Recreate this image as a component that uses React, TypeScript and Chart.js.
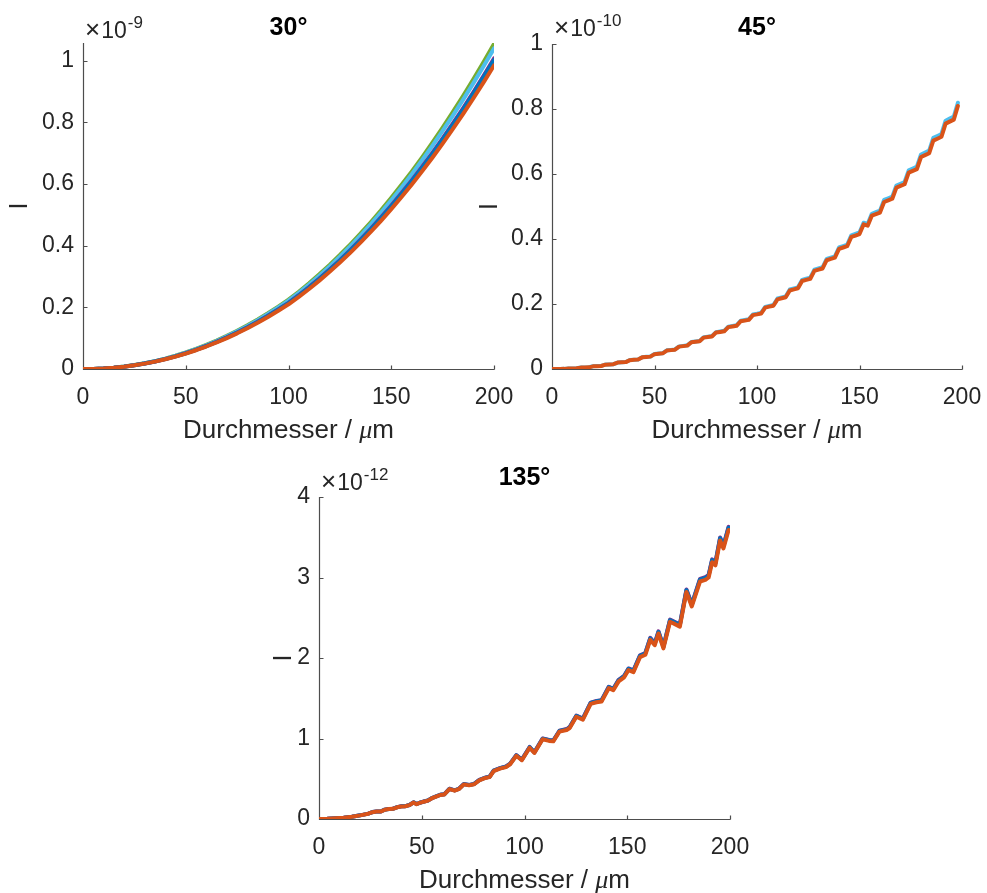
import { useEffect, useRef } from "react";
import { Chart, registerables } from "chart.js";

Chart.register(...registerables);

// MATLAB default line colours
const BLUE = "#0072BD";
const ORANGE = "#D95319";
const PURPLE = "#7E2F8E";
const GREEN = "#77AC30";
const CYAN = "#4DBEEE";

const AXIS_COLOR = "#262626";
const AXIS_LINE_COLOR = "#4d4d4d";
const FONT = "'Liberation Sans', Arial, Helvetica, sans-serif";

const X_LABEL = "Durchmesser / ";
const X_UNIT_MU = "μ";
const X_UNIT_M = "m";
const Y_LABEL = "I";

const X_TICKS = [0, 50, 100, 150, 200];
const Y_TICKS_30 = [0, 0.2, 0.4, 0.6, 0.8, 1];
const Y_TICKS_45 = [0, 0.2, 0.4, 0.6, 0.8, 1];
const Y_TICKS_135 = [0, 1, 2, 3, 4];

// ---- 30° : diameter (µm), intensity in units of 1e-9 ----
const D_30 = [
  0, 5, 10, 15, 20, 25, 30, 35, 40, 45,
  50, 55, 60, 65, 70, 75, 80, 85, 90, 95,
  100, 105, 110, 115, 120, 125, 130, 135, 140, 145,
  150, 155, 160, 165, 170, 175, 180, 185, 190, 195,
  200,
];
const I30_ORANGE = [
  0, 0.0004, 0.0018, 0.0041, 0.0075, 0.0119, 0.0174, 0.0239, 0.0315, 0.0402,
  0.05, 0.0609, 0.073, 0.0861, 0.1004, 0.1158, 0.1323, 0.15, 0.1689, 0.1889,
  0.21, 0.2341, 0.2597, 0.2868, 0.3154, 0.3454, 0.377, 0.4101, 0.4447, 0.4809,
  0.5187, 0.558, 0.599, 0.6415, 0.6857, 0.7315, 0.779, 0.828, 0.8787, 0.9311,
  0.9852,
];
const I30_BLUE = [
  0, 0.0004, 0.0018, 0.0042, 0.0076, 0.0121, 0.0177, 0.0243, 0.0321, 0.0409,
  0.0509, 0.062, 0.0743, 0.0876, 0.1022, 0.1179, 0.1347, 0.1527, 0.1719, 0.1923,
  0.2138, 0.2383, 0.2644, 0.292, 0.3211, 0.3516, 0.3838, 0.4175, 0.4527, 0.4896,
  0.528, 0.568, 0.6098, 0.653, 0.698, 0.7447, 0.793, 0.8429, 0.8945, 0.9479,
  1.0029,
];
const I30_PURPLE = [
  0, 0.0004, 0.0018, 0.0042, 0.0077, 0.0122, 0.0178, 0.0244, 0.0322, 0.0411,
  0.0512, 0.0623, 0.0747, 0.0881, 0.1027, 0.1185, 0.1353, 0.1535, 0.1728, 0.1932,
  0.2148, 0.2395, 0.2657, 0.2934, 0.3227, 0.3533, 0.3857, 0.4195, 0.4549, 0.492,
  0.5306, 0.5708, 0.6128, 0.6563, 0.7015, 0.7483, 0.7969, 0.847, 0.8989, 0.9525,
  1.0079,
];
const I30_CYAN = [
  0, 0.0004, 0.0019, 0.0043, 0.0079, 0.0126, 0.0184, 0.0252, 0.0333, 0.0425,
  0.0528, 0.0643, 0.0771, 0.0909, 0.106, 0.1223, 0.1397, 0.1584, 0.1784, 0.1995,
  0.2218, 0.2472, 0.2742, 0.3029, 0.3331, 0.3647, 0.3981, 0.4331, 0.4696, 0.5078,
  0.5477, 0.5892, 0.6325, 0.6774, 0.7241, 0.7725, 0.8226, 0.8744, 0.9279, 0.9832,
  1.0404,
];
const I30_GREEN = [
  0, 0.0004, 0.0019, 0.0044, 0.008, 0.0127, 0.0186, 0.0256, 0.0337, 0.0431,
  0.0536, 0.0652, 0.0782, 0.0922, 0.1075, 0.124, 0.1417, 0.1607, 0.1809, 0.2023,
  0.2249, 0.2507, 0.2781, 0.3072, 0.3378, 0.3699, 0.4038, 0.4392, 0.4763, 0.515,
  0.5555, 0.5976, 0.6415, 0.687, 0.7344, 0.7834, 0.8343, 0.8868, 0.9411, 0.9972,
  1.0551,
];

// ---- 45° : diameter (µm), intensity in units of 1e-10 ----
const D_45 = [
  0, 2, 4, 6, 8, 10, 12, 14, 16, 18,
  20, 22, 24, 26, 28, 30, 32, 34, 36, 38,
  40, 42, 44, 46, 48, 50, 52, 54, 56, 58,
  60, 62, 64, 66, 68, 70, 72, 74, 76, 78,
  80, 82, 84, 86, 88, 90, 92, 94, 96, 98,
  100, 102, 104, 106, 108, 110, 112, 114, 116, 118,
  120, 122, 124, 126, 128, 130, 132, 134, 136, 138,
  140, 142, 144, 146, 148, 150, 152, 154, 156, 158,
  160, 162, 164, 166, 168, 170, 172, 174, 176, 178,
  180, 182, 184, 186, 188, 190, 192, 194, 196, 198,
];
const I45_ORANGE = [
  0, 0.0001, 0.0003, 0.0004, 0.0016, 0.0019, 0.0021, 0.0043, 0.0047, 0.0051,
  0.0082, 0.0088, 0.0093, 0.0133, 0.014, 0.0147, 0.0197, 0.0205, 0.0213, 0.0272,
  0.0281, 0.0291, 0.0358, 0.037, 0.0381, 0.0457, 0.0469, 0.0482, 0.0567, 0.0581,
  0.0594, 0.0688, 0.0704, 0.0719, 0.0822, 0.0838, 0.0854, 0.0966, 0.0984, 0.1001,
  0.1122, 0.1141, 0.116, 0.1289, 0.1309, 0.1329, 0.1467, 0.1489, 0.1511, 0.1657,
  0.168, 0.1707, 0.189, 0.1919, 0.1947, 0.2144, 0.2175, 0.2206, 0.2417, 0.245,
  0.2483, 0.2708, 0.2743, 0.2778, 0.3018, 0.3056, 0.3093, 0.3347, 0.3387, 0.3426,
  0.3695, 0.3738, 0.3778, 0.4062, 0.4106, 0.4151, 0.4449, 0.441, 0.4719, 0.4767,
  0.4815, 0.5139, 0.519, 0.524, 0.558, 0.5633, 0.5685, 0.6041, 0.6096, 0.6151,
  0.6523, 0.658, 0.6639, 0.7026, 0.7086, 0.7146, 0.7549, 0.7612, 0.7673, 0.8094,
];
const I45_CYAN = [
  0, 0.0001, 0.0003, 0.0004, 0.0016, 0.0019, 0.0021, 0.0044, 0.0048, 0.0052,
  0.0083, 0.0089, 0.0094, 0.0135, 0.0142, 0.0149, 0.0199, 0.0207, 0.0216, 0.0275,
  0.0284, 0.0294, 0.0362, 0.0374, 0.0386, 0.0462, 0.0475, 0.0488, 0.0574, 0.0588,
  0.0601, 0.0696, 0.0712, 0.0728, 0.0832, 0.0848, 0.0864, 0.0978, 0.0996, 0.1013,
  0.1135, 0.1155, 0.1174, 0.1304, 0.1325, 0.1345, 0.1485, 0.1507, 0.1529, 0.1677,
  0.17, 0.1727, 0.1913, 0.1942, 0.197, 0.217, 0.2201, 0.2232, 0.2446, 0.2479,
  0.2513, 0.274, 0.2776, 0.2811, 0.3054, 0.3093, 0.313, 0.3387, 0.3428, 0.3467,
  0.3739, 0.3783, 0.3823, 0.4111, 0.4155, 0.4201, 0.4502, 0.4463, 0.4776, 0.4824,
  0.4873, 0.5201, 0.5252, 0.5303, 0.5647, 0.5701, 0.5753, 0.6113, 0.6169, 0.6225,
  0.6601, 0.6659, 0.6719, 0.711, 0.7171, 0.7232, 0.764, 0.7703, 0.7765, 0.8191,
];

// ---- 135° : diameter (µm), intensity in units of 1e-12 ----
const D_135 = [
  0, 4, 8, 12, 16, 20, 24, 26, 28, 30,
  32, 34, 36, 38, 40, 42, 44, 46, 47.5, 49,
  51, 53, 55, 57, 59, 61, 63.5, 66, 68, 70.5,
  73, 75.5, 78, 81, 83, 85, 88, 91, 93, 96,
  98.7, 102.5, 104.8, 108.8, 112, 114, 117, 120.5, 122, 125.2,
  128.4, 132.2, 135, 137.5, 139, 141, 143.2, 145.8, 148.5, 150.6,
  153, 156.2, 158.8, 161.2, 163.4, 165.2, 167.6, 170.8, 172.5, 175.6,
  178.8, 181.4, 185.4, 188, 189.6, 191.3, 192.9, 195.2, 196.8, 199.3,
];
const I135_ORANGE = [
  0, 0.002, 0.008, 0.016, 0.028, 0.045, 0.066, 0.085, 0.092, 0.092,
  0.115, 0.124, 0.126, 0.145, 0.156, 0.158, 0.172, 0.205, 0.184, 0.2,
  0.215, 0.228, 0.258, 0.278, 0.298, 0.305, 0.372, 0.352, 0.37, 0.43,
  0.418, 0.432, 0.48, 0.51, 0.52, 0.595, 0.625, 0.645, 0.68, 0.785,
  0.73, 0.885, 0.82, 0.99, 0.97, 0.965, 1.085, 1.105, 1.13, 1.27,
  1.235, 1.43, 1.45, 1.46, 1.53, 1.625, 1.6, 1.71, 1.76, 1.85,
  1.825, 2.01, 2.04, 2.225, 2.16, 2.305, 2.12, 2.45, 2.43, 2.39,
  2.82, 2.64, 2.95, 2.97, 3.0, 3.19, 3.15, 3.46, 3.36, 3.59,
];
const I135_BLUE = [
  0, 0.002, 0.0081, 0.0161, 0.0282, 0.0454, 0.0665, 0.0857, 0.0927, 0.0927,
  0.1159, 0.125, 0.127, 0.1462, 0.1572, 0.1593, 0.1734, 0.2066, 0.1855, 0.2016,
  0.2167, 0.2298, 0.2601, 0.2802, 0.3004, 0.3074, 0.375, 0.3548, 0.373, 0.4334,
  0.4213, 0.4355, 0.4838, 0.5141, 0.5242, 0.5998, 0.63, 0.6502, 0.6854, 0.7913,
  0.7358, 0.8921, 0.8266, 0.9979, 0.9778, 0.9727, 1.0937, 1.1138, 1.139, 1.2802,
  1.2449, 1.4414, 1.4616, 1.4717, 1.5422, 1.638, 1.6128, 1.7237, 1.7741, 1.8648,
  1.8396, 2.0261, 2.0563, 2.2428, 2.1773, 2.3234, 2.137, 2.4696, 2.4494, 2.4091,
  2.8426, 2.6611, 2.9736, 2.9938, 3.024, 3.2155, 3.1752, 3.4877, 3.3869, 3.6187,
];
const I135_PURPLE = [
  0, 0.002, 0.0081, 0.0162, 0.0283, 0.0455, 0.0667, 0.0859, 0.093, 0.093,
  0.1163, 0.1254, 0.1274, 0.1466, 0.1577, 0.1597, 0.1739, 0.2073, 0.186, 0.2022,
  0.2174, 0.2305, 0.2608, 0.2811, 0.3013, 0.3084, 0.3761, 0.3559, 0.3741, 0.4347,
  0.4226, 0.4368, 0.4853, 0.5156, 0.5257, 0.6015, 0.6319, 0.6521, 0.6875, 0.7936,
  0.738, 0.8947, 0.829, 1.0009, 0.9807, 0.9756, 1.0969, 1.1172, 1.1424, 1.284,
  1.2486, 1.4457, 1.466, 1.4761, 1.5468, 1.6429, 1.6176, 1.7288, 1.7794, 1.8704,
  1.8451, 2.0321, 2.0624, 2.2495, 2.1838, 2.3304, 2.1433, 2.477, 2.4567, 2.4163,
  2.851, 2.669, 2.9825, 3.0027, 3.033, 3.2251, 3.1847, 3.4981, 3.397, 3.6295,
];

type Series = { color: string; values: number[] };
type Pad = { left: number; top: number; right: number; bottom: number };

type PanelProps = {
  left: number;
  top: number;
  width: number;
  height: number;
  pad: Pad;
  title: string;
  exponent: string;
  yMax: number;
  yTicks: number[];
  x: number[];
  series: Series[];
  titleGap: number;
  expGap: number;
  yLabelDx: number;
};

const TICK_LEN = 4;
const LINE_WIDTH = 4;
// room kept for the tick labels inside each scale box
const Y_SCALE_BOX = 60;
const X_SCALE_BOX = 45;

function Panel(props: PanelProps) {
  const ref = useRef<HTMLCanvasElement>(null);

  useEffect(() => {
    const canvas = ref.current;
    if (!canvas) return;
    const { x, series, yMax, yTicks, pad, title, exponent, titleGap, expGap, yLabelDx } = props;

    const axesPlugin = {
      id: "matlabAxes",
      beforeDatasetsDraw(chart: any) {
        const { ctx, chartArea: a, scales } = chart;
        const L = Math.round(a.left) + 0.5;
        const B = Math.round(a.bottom) + 0.5;
        ctx.save();
        ctx.strokeStyle = AXIS_LINE_COLOR;
        ctx.lineWidth = 1.2;
        ctx.beginPath();
        ctx.moveTo(L, a.top);
        ctx.lineTo(L, B);
        ctx.lineTo(a.right + 0.5, B);
        for (const v of yTicks) {
          const py = Math.round(scales.y.getPixelForValue(v)) + 0.5;
          ctx.moveTo(L, py);
          ctx.lineTo(L + TICK_LEN, py);
        }
        for (const v of X_TICKS) {
          const px = Math.round(scales.x.getPixelForValue(v)) + 0.5;
          ctx.moveTo(px, B);
          ctx.lineTo(px, B - TICK_LEN);
        }
        ctx.stroke();
        ctx.restore();
      },
      afterDraw(chart: any) {
        const { ctx, chartArea: a } = chart;
        const cx = (a.left + a.right) / 2;
        ctx.save();

        // title
        ctx.fillStyle = "#000";
        ctx.font = `bold 25px ${FONT}`;
        ctx.textAlign = "center";
        ctx.textBaseline = "alphabetic";
        ctx.fillText(title, cx, a.top - titleGap);

        // exponent multiplier
        ctx.fillStyle = AXIS_COLOR;
        ctx.textAlign = "left";
        const ex = a.left + 2;
        const ey = a.top - expGap;
        ctx.font = `26px ${FONT}`;
        ctx.fillText("×", ex, ey);
        let ox = ex + ctx.measureText("×").width + 1;
        ctx.font = `23px ${FONT}`;
        ctx.fillText("10", ox, ey);
        ox += ctx.measureText("10").width + 1;
        ctx.font = `17px ${FONT}`;
        ctx.fillText(exponent, ox, ey - 10);

        // x axis label
        const parts = [
          { t: X_LABEL, f: `26px ${FONT}` },
          { t: X_UNIT_MU, f: `italic 26px 'Liberation Serif', serif` },
          { t: X_UNIT_M, f: `26px ${FONT}` },
        ];
        let total = 0;
        const widths = parts.map((p) => {
          ctx.font = p.f;
          const pw = ctx.measureText(p.t).width;
          total += pw;
          return pw;
        });
        let px = cx - total / 2;
        const by = a.bottom + 69;
        parts.forEach((p, i) => {
          ctx.font = p.f;
          ctx.fillText(p.t, px, by);
          px += widths[i];
        });

        // y axis label (rotated)
        ctx.translate(a.left - yLabelDx, (a.top + a.bottom) / 2);
        ctx.rotate(-Math.PI / 2);
        ctx.textAlign = "center";
        ctx.font = `25px ${FONT}`;
        ctx.fillText(Y_LABEL, 0, 9);
        ctx.restore();
      },
    };

    const tickFont = { family: FONT, size: 23 };

    const chart = new Chart(canvas, {
      type: "line",
      data: {
        datasets: series.map((s) => ({
          data: x.map((d, i) => ({ x: d, y: s.values[i] })),
          borderColor: s.color,
          backgroundColor: s.color,
          borderWidth: LINE_WIDTH,
          pointRadius: 0,
          fill: false,
          tension: 0,
          borderJoinStyle: "round" as const,
          borderCapStyle: "round" as const,
        })),
      },
      options: {
        responsive: false,
        animation: false,
        devicePixelRatio: 1,
        events: [],
        layout: {
          padding: {
            left: pad.left - Y_SCALE_BOX,
            top: pad.top,
            right: pad.right,
            bottom: pad.bottom - X_SCALE_BOX,
          },
          autoPadding: false,
        },
        plugins: {
          legend: { display: false },
          tooltip: { enabled: false },
          title: { display: false },
        },
        scales: {
          x: {
            type: "linear",
            min: 0,
            max: 200,
            grid: { display: false, drawTicks: false },
            border: { display: false },
            ticks: {
              font: tickFont,
              color: AXIS_COLOR,
              padding: 15,
              autoSkip: false,
              maxRotation: 0,
              minRotation: 0,
              callback: (v: any) => String(v),
            },
            afterBuildTicks: (s: any) => {
              s.ticks = X_TICKS.map((v) => ({ value: v }));
            },
            afterFit: (s: any) => {
              s.height = X_SCALE_BOX;
              s.paddingLeft = 0;
              s.paddingRight = 0;
            },
          },
          y: {
            type: "linear",
            min: 0,
            max: yMax,
            grid: { display: false, drawTicks: false },
            border: { display: false },
            ticks: {
              font: tickFont,
              color: AXIS_COLOR,
              padding: 9,
              autoSkip: false,
              callback: (v: any) => String(v),
            },
            afterBuildTicks: (s: any) => {
              s.ticks = yTicks.map((v) => ({ value: v }));
            },
            afterFit: (s: any) => {
              s.width = Y_SCALE_BOX;
              s.paddingTop = 0;
              s.paddingBottom = 0;
            },
          },
        },
      } as any,
      plugins: [axesPlugin],
    });

    return () => chart.destroy();
  }, []);

  return (
    <canvas
      ref={ref}
      width={props.width}
      height={props.height}
      style={{
        position: "absolute",
        left: props.left,
        top: props.top,
        width: props.width,
        height: props.height,
      }}
    />
  );
}

export default function App() {
  return (
    <div style={{ background: "#fff" }}>
      <Panel
        left={0}
        top={0}
        width={520}
        height={450}
        pad={{ left: 83, top: 43, right: 26, bottom: 81 }}
        title="30°"
        exponent="-9"
        yMax={1.058}
        yTicks={Y_TICKS_30}
        x={D_30}
        series={[
          { color: ORANGE, values: I30_ORANGE },
          { color: BLUE, values: I30_BLUE },
          { color: PURPLE, values: I30_PURPLE },
          { color: CYAN, values: I30_CYAN },
          { color: GREEN, values: I30_GREEN },
        ]}
        titleGap={8}
        expGap={5}
        yLabelDx={65}
      />
      <Panel
        left={467}
        top={0}
        width={520}
        height={450}
        pad={{ left: 85, top: 44, right: 25, bottom: 81 }}
        title="45°"
        exponent="-10"
        yMax={1}
        yTicks={Y_TICKS_45}
        x={D_45}
        series={[
          { color: ORANGE, values: I45_ORANGE },
          { color: CYAN, values: I45_CYAN },
        ]}
        titleGap={9}
        expGap={8}
        yLabelDx={64}
      />
      <Panel
        left={235}
        top={450}
        width={520}
        height={443}
        pad={{ left: 84, top: 47, right: 25, bottom: 74 }}
        title="135°"
        exponent="-12"
        yMax={4}
        yTicks={Y_TICKS_135}
        x={D_135}
        series={[
          { color: ORANGE, values: I135_ORANGE },
          { color: BLUE, values: I135_BLUE },
          { color: PURPLE, values: I135_PURPLE },
        ]}
        titleGap={12}
        expGap={7}
        yLabelDx={37}
      />
    </div>
  );
}
